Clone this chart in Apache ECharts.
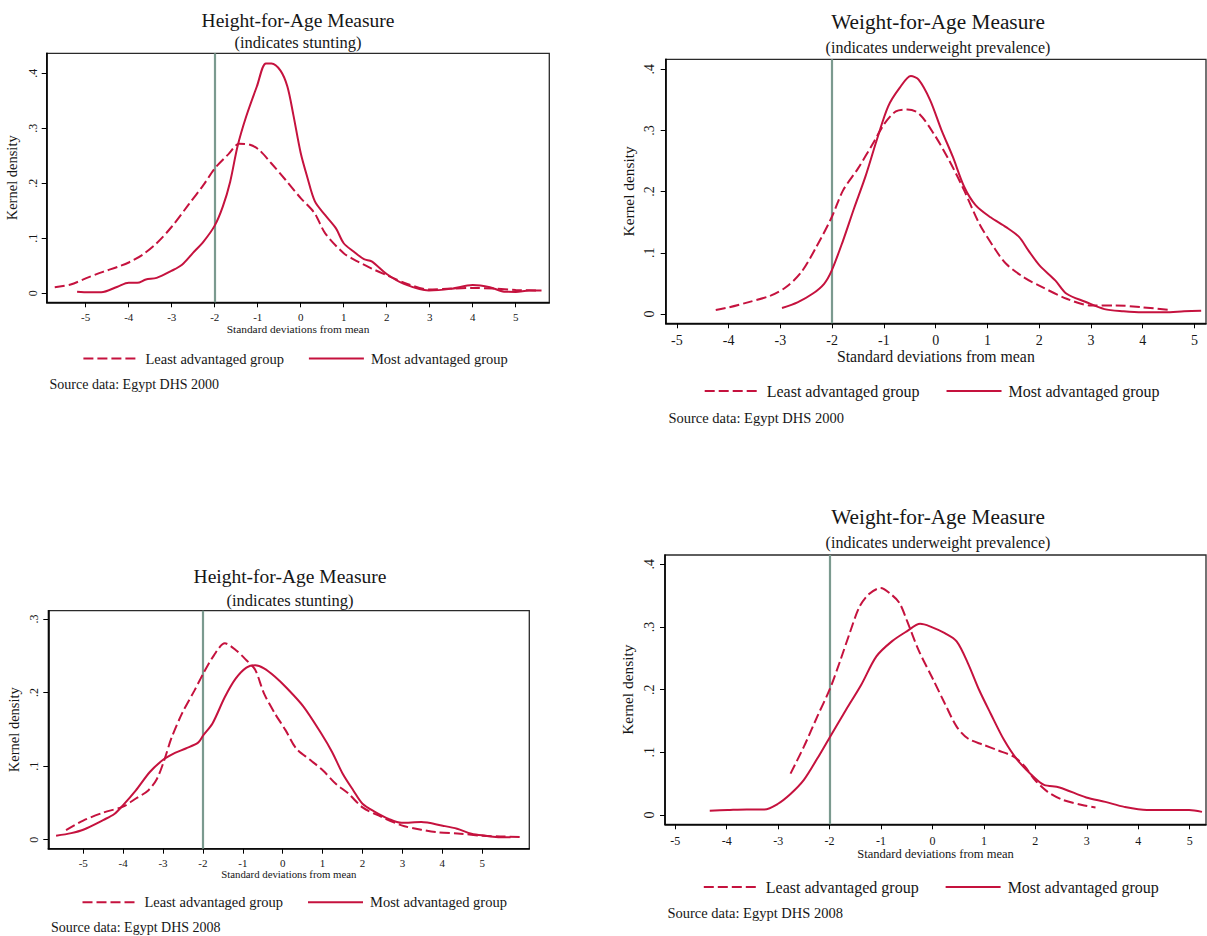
<!DOCTYPE html>
<html><head><meta charset="utf-8">
<script src="https://cdn.jsdelivr.net/npm/echarts@6/dist/echarts.min.js"></script>
<style>html,body{margin:0;padding:0;background:#fff}#c{width:1207px;height:936px}</style>
</head><body><div id="c"></div>
<script>
// ---------- data ----------
const xTicks = [-5,-4,-3,-2,-1,0,1,2,3,4,5];
const yTicksA = [0,0.1,0.2,0.3,0.4];
const yTicksB = [0,0.1,0.2,0.3];
const cutoff = -2;
const seriesNames = ['Least advantaged group','Most advantaged group'];
const panelTitles = ['Height-for-Age Measure','Weight-for-Age Measure','Height-for-Age Measure','Weight-for-Age Measure'];
const panelSubtitles = ['(indicates stunting)','(indicates underweight prevalence)','(indicates stunting)','(indicates underweight prevalence)'];
const panelSources = ['Source data: Egypt DHS 2000','Source data: Egypt DHS 2000','Source data: Egypt DHS 2008','Source data: Egypt DHS 2008'];
const xAxisTitle = 'Standard deviations from mean';
const yAxisTitle = 'Kernel density';

// Height-for-age, 2000
const haz2000LeastX = [-5.72,-5.35,-5.0,-4.6,-4.26,-4.0,-3.68,-3.35,-3.0,-2.6,-2.26,-2.0,-1.68,-1.43,-1.18,-0.97,-0.68,-0.35,0,0.32,0.57,1.0,1.32,1.65,2.0,2.48,2.98,3.48,4.0,4.48,5.0,5.56];
const haz2000LeastY = [0.011,0.016,0.027,0.039,0.048,0.056,0.070,0.091,0.121,0.162,0.197,0.227,0.253,0.272,0.270,0.261,0.236,0.206,0.173,0.146,0.109,0.073,0.058,0.045,0.033,0.017,0.007,0.0085,0.0097,0.0085,0.006,0.005];
const haz2000MostX = [-5.2,-4.93,-4.64,-4.26,-4.0,-3.8,-3.6,-3.35,-3.0,-2.76,-2.51,-2.26,-2.0,-1.81,-1.64,-1.47,-1.27,-1.02,-0.81,-0.68,-0.47,-0.31,-0.17,0,0.15,0.33,0.57,0.82,1.0,1.23,1.47,1.65,2.0,2.4,2.98,3.48,4.0,4.4,4.73,5.0,5.31,5.6];
const haz2000MostY = [0.003,0.002,0.002,0.012,0.019,0.019,0.025,0.028,0.041,0.052,0.073,0.094,0.123,0.158,0.203,0.267,0.321,0.376,0.418,0.418,0.405,0.376,0.324,0.255,0.212,0.167,0.142,0.118,0.091,0.076,0.062,0.058,0.035,0.017,0.005,0.008,0.015,0.011,0.003,0.0025,0.005,0.005];

// Weight-for-age, 2000
const waz2000LeastX = [-4.25,-3.99,-3.63,-3.19,-2.89,-2.6,-2.31,-2.01,-1.79,-1.5,-1.21,-0.99,-0.77,-0.55,-0.33,-0.04,0.26,0.55,0.84,1.14,1.36,1.72,2.01,2.53,3.0,3.48,3.99,4.51];
const waz2000LeastY = [0.0066,0.011,0.019,0.030,0.044,0.068,0.109,0.158,0.202,0.238,0.279,0.311,0.331,0.334,0.328,0.295,0.251,0.202,0.148,0.107,0.082,0.059,0.046,0.025,0.014,0.014,0.011,0.0066];
const waz2000MostX = [-2.97,-2.67,-2.38,-2.16,-2.01,-1.79,-1.58,-1.36,-1.14,-0.92,-0.7,-0.48,-0.33,-0.11,0.11,0.33,0.55,0.77,1.06,1.36,1.61,1.79,2.01,2.31,2.53,2.89,3.26,3.63,3.99,4.43,4.8,5.13];
const waz2000MostY = [0.0098,0.019,0.033,0.049,0.071,0.120,0.172,0.224,0.284,0.339,0.369,0.389,0.383,0.350,0.301,0.257,0.208,0.178,0.158,0.142,0.126,0.104,0.079,0.055,0.033,0.020,0.008,0.0044,0.0027,0.0027,0.0044,0.0055];

// Height-for-age, 2008
const haz2008LeastX = [-5.43,-5.0,-4.49,-4.0,-3.68,-3.37,-3.15,-2.97,-2.79,-2.52,-2.21,-1.99,-1.72,-1.45,-1.18,-0.91,-0.69,-0.47,-0.2,0.07,0.34,0.7,1.01,1.33,1.64,2.0,2.4,2.98,3.47,3.83,4.45,5.0,5.45,5.99];
const haz2008LeastY = [0.013,0.026,0.037,0.045,0.056,0.067,0.083,0.108,0.138,0.172,0.203,0.226,0.251,0.267,0.258,0.244,0.231,0.199,0.172,0.149,0.124,0.108,0.094,0.076,0.063,0.044,0.033,0.0195,0.0136,0.0104,0.0082,0.0054,0.0045,0.0036];
const haz2008MostX = [-5.68,-5.3,-5.0,-4.49,-4.22,-4.0,-3.68,-3.33,-2.99,-2.7,-2.43,-2.12,-1.99,-1.76,-1.45,-1.18,-0.91,-0.69,-0.47,-0.2,0.07,0.52,0.97,1.24,1.5,1.77,2.0,2.31,2.67,2.98,3.47,4.01,4.37,4.73,5.09,5.45,5.71];
const haz2008MostY = [0.0054,0.009,0.0136,0.027,0.035,0.047,0.067,0.092,0.109,0.118,0.124,0.132,0.142,0.158,0.194,0.219,0.234,0.237,0.233,0.222,0.208,0.181,0.144,0.119,0.090,0.067,0.049,0.038,0.028,0.023,0.024,0.019,0.015,0.0082,0.0054,0.0032,0.0032];

// Weight-for-age, 2008
const waz2008LeastX = [-2.76,-2.5,-2.24,-1.99,-1.79,-1.61,-1.42,-1.24,-1.01,-0.79,-0.64,-0.5,-0.27,0.02,0.24,0.47,0.69,0.99,1.28,1.58,1.8,1.99,2.24,2.54,2.91,3.17];
const waz2008LeastY = [0.066,0.109,0.157,0.202,0.247,0.290,0.332,0.352,0.362,0.351,0.338,0.311,0.263,0.215,0.178,0.141,0.122,0.112,0.103,0.093,0.077,0.056,0.037,0.024,0.016,0.012];
const waz2008MostX = [-4.33,-3.98,-3.61,-3.27,-3.01,-2.76,-2.5,-2.24,-1.99,-1.68,-1.39,-1.09,-0.79,-0.5,-0.24,-0.05,0.24,0.47,0.69,0.91,1.13,1.39,1.65,1.99,2.17,2.47,2.99,3.36,3.73,4.17,4.69,4.99,5.24];
const waz2008MostY = [0.0069,0.008,0.009,0.009,0.0176,0.0335,0.056,0.090,0.125,0.168,0.207,0.253,0.277,0.293,0.305,0.301,0.290,0.277,0.242,0.199,0.162,0.120,0.088,0.059,0.048,0.044,0.028,0.021,0.013,0.008,0.008,0.008,0.005];

// ---------- layout / style ----------
const FONT = '"Liberation Serif", "Times New Roman", serif';
const RED = '#c5123e';
const CUT = '#7b9a8f';
const INK = '#161616';
const zip = (xs, ys) => xs.map((x, i) => [x, ys[i]]);
const panelData = [
  [haz2000LeastX, haz2000LeastY, haz2000MostX, haz2000MostY],
  [waz2000LeastX, waz2000LeastY, waz2000MostX, waz2000MostY],
  [haz2008LeastX, haz2008LeastY, haz2008MostX, haz2008MostY],
  [waz2008LeastX, waz2008LeastY, waz2008MostX, waz2008MostY]
];
const P = [
  {grid:{left:46.7, top:53.3, width:502.6, height:249}, x:[-5.907,5.781], y:[-0.0164,0.4364], yt:yTicksA,
   title:[298,20,19.5], sub:[298,42.7,16.5], src:[49.5,384,14], leg:[82.4,358,14.5,24],
   xl:{fs:11,m:9}, xn:{fs:11.4,g:21}, yl:{fs:12,m:8}, yn:{fs:14.5,g:27}},
  {grid:{left:665.7, top:59.3, width:540.3, height:264}, x:[-5.217,5.223], y:[-0.0152,0.4162], yt:yTicksA,
   title:[938,21.7,21.3], sub:[938,47.7,16], src:[668.4,418,14.5], leg:[703.7,390,16,26],
   xl:{fs:14,m:10}, xn:{fs:15.8,g:25}, yl:{fs:14,m:9}, yn:{fs:15.4,g:30}},
  {grid:{left:48.3, top:610.7, width:481, height:238}, x:[-5.875,6.18], y:[-0.0122,0.3113], yt:yTicksB,
   title:[290,576.7,19.5], sub:[290,600,16.5], src:[51,927.7,14], leg:[81.5,901.7,14.5,24],
   xl:{fs:11,m:8.5}, xn:{fs:10.8,g:20}, yl:{fs:12,m:8}, yn:{fs:14.5,g:27}},
  {grid:{left:665, top:555, width:541, height:269.3}, x:[-5.20,5.318], y:[-0.0148,0.4148], yt:yTicksA,
   title:[938,516.7,21.3], sub:[938,542.7,16], src:[667.4,913.3,14.5], leg:[702.8,886,16,26],
   xl:{fs:12,m:11}, xn:{fs:12.5,g:23}, yl:{fs:14,m:9}, yn:{fs:15.4,g:30}}
];

const grids = [], xAxes = [], yAxes = [], series = [], legends = [], texts = [];
P.forEach((p, i) => {
  grids.push(Object.assign({show:true, borderColor:'#2a2a2a', borderWidth:1.3, backgroundColor:'transparent', outerBoundsMode:'none', containLabel:false}, p.grid));
  xAxes.push({
    type:'value', gridIndex:i, min:p.x[0], max:p.x[1],
    axisLine:{show:true, onZero:false, lineStyle:{color:'#000', width:1.6}},
    axisTick:{show:true, length:5, inside:false, customValues:xTicks, lineStyle:{color:'#000', width:1}},
    axisLabel:{show:true, customValues:xTicks, margin:p.xl.m, fontFamily:FONT, fontSize:p.xl.fs, color:INK, formatter:v => String(Math.round(v))},
    splitLine:{show:false},
    name:xAxisTitle, nameLocation:'middle', nameGap:p.xn.g, nameMoveOverlap:false,
    nameTextStyle:{fontFamily:FONT, fontSize:p.xn.fs, color:INK}
  });
  yAxes.push({
    type:'value', gridIndex:i, min:p.y[0], max:p.y[1],
    axisLine:{show:true, onZero:false, lineStyle:{color:'#000', width:1.6}},
    axisTick:{show:true, length:5, inside:false, customValues:p.yt, lineStyle:{color:'#000', width:1}},
    axisLabel:{show:true, customValues:p.yt, rotate:90, margin:p.yl.m, fontFamily:FONT, fontSize:p.yl.fs, color:INK,
      formatter:v => (Math.abs(v) < 1e-9 ? '0' : '.' + Math.round(v * 10))},
    splitLine:{show:false},
    name:yAxisTitle, nameLocation:'middle', nameRotate:90, nameGap:p.yn.g, nameMoveOverlap:false,
    nameTextStyle:{fontFamily:FONT, fontSize:p.yn.fs, color:INK}
  });
  const d = panelData[i];
  series.push({
    name:seriesNames[0], type:'line', xAxisIndex:i, yAxisIndex:i, data:zip(d[0], d[1]),
    symbol:'none', showSymbol:false, smooth:0.3, animation:false, z:3,
    lineStyle:{color:RED, width:2, type:[10,4]}, itemStyle:{color:RED}
  });
  series.push({
    name:seriesNames[1], type:'line', xAxisIndex:i, yAxisIndex:i, data:zip(d[2], d[3]),
    symbol:'none', showSymbol:false, smooth:0.3, animation:false, z:3,
    lineStyle:{color:RED, width:2, type:'solid'}, itemStyle:{color:RED},
    markLine:{silent:true, symbol:['none','none'], animation:false, label:{show:false},
      lineStyle:{color:CUT, width:2.2, type:'solid'}, data:[{xAxis:cutoff}], z:2}
  });
  legends.push({
    show:true, orient:'horizontal', left:p.leg[0], top:p.leg[1] - 7, itemWidth:55, itemHeight:14, itemGap:p.leg[3],
    data:seriesNames, selectedMode:false, padding:0,
    itemStyle:{color:'rgba(0,0,0,0)', borderColor:'rgba(0,0,0,0)', borderWidth:0, opacity:0},
    textStyle:{fontFamily:FONT, fontSize:p.leg[2], color:INK, padding:[0,0,0,2]}
  });
  texts.push({type:'text', x:p.title[0], y:p.title[1], style:{text:panelTitles[i], font:p.title[2] + 'px ' + FONT, fill:INK, textAlign:'center', textVerticalAlign:'middle'}});
  texts.push({type:'text', x:p.sub[0], y:p.sub[1], style:{text:panelSubtitles[i], font:p.sub[2] + 'px ' + FONT, fill:INK, textAlign:'center', textVerticalAlign:'middle'}});
  texts.push({type:'text', x:p.src[0], y:p.src[1], style:{text:panelSources[i], font:p.src[2] + 'px ' + FONT, fill:INK, textAlign:'left', textVerticalAlign:'middle'}});
});

const chart = echarts.init(document.getElementById('c'), null, {renderer:'svg', width:1207, height:936});
chart.setOption({
  backgroundColor:'#ffffff',
  animation:false,
  grid:grids, xAxis:xAxes, yAxis:yAxes, series:series, legend:legends,
  graphic:{elements:texts},
  tooltip:{show:false}
});
</script>
</body></html>
